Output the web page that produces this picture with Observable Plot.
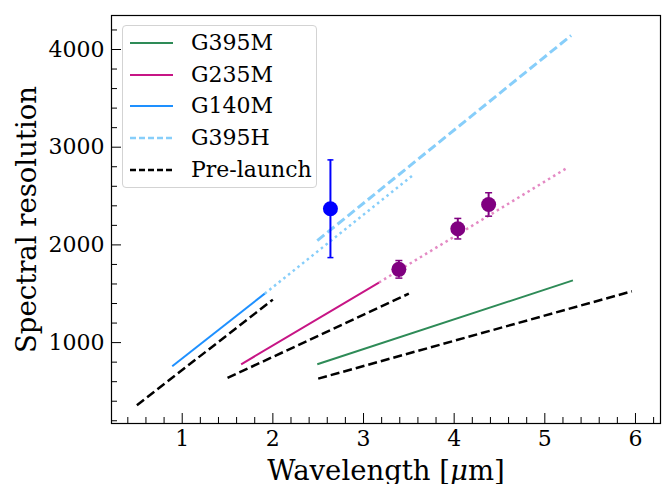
<!DOCTYPE html>
<html><head><meta charset="utf-8">
<script src="https://cdn.jsdelivr.net/npm/d3@7"></script>
<script src="https://cdn.jsdelivr.net/npm/@observablehq/plot@0.6"></script>
<style>
body{margin:0;background:#fff;}
#chart{position:relative;width:663px;height:484px;font-family:"DejaVu Serif",serif;}
#legend{position:absolute;left:122px;top:25px;width:195px;height:163px;border:1px solid #d3d3d3;border-radius:4px;background:rgba(255,255,255,0.85);box-sizing:border-box;}
.row{position:absolute;left:0;height:32px;display:flex;align-items:center;}
.row svg{position:absolute;left:0;top:0;}
.row span{position:absolute;left:68px;top:0;line-height:32px;font-size:22px;white-space:nowrap;color:#000;}
</style>
</head><body>
<div id="chart"></div>
<script>
// ---- data ----
const xMajorTicks = [1, 2, 3, 4, 5, 6];
const yMajorTicks = [1000, 2000, 3000, 4000];

const g395mWave = [2.49, 5.31];
const g395mRes  = [778, 1637];
const g235mWave = [1.65, 3.17];
const g235mRes  = [778, 1615];
const g235mExtWave = [3.17, 5.26];
const g235mExtRes  = [1615, 2796];
const g140mWave = [0.89, 1.91];
const g140mRes  = [758, 1501];
const g140mExtWave = [1.91, 3.55];
const g140mExtRes  = [1501, 2718];
const g395hWave = [2.49, 5.29];
const g395hRes  = [2044, 4143];
const pre140Wave = [0.5, 2.0];
const pre140Res  = [359, 1440];
const pre235Wave = [1.5, 3.5];
const pre235Res  = [638, 1501];
const pre395Wave = [2.5, 5.96];
const pre395Res  = [631, 1525];

const blueWave = [2.635];
const blueRes  = [2370];
const blueErr  = [500];
const purpleWave = [3.39, 4.04, 4.38];
const purpleRes  = [1750, 2166, 2414];
const purpleErr  = [90, 105, 120];

const legendLabels = ["G395M", "G235M", "G140M", "G395H", "Pre-launch"];
const legendColors = ["#2e8b57", "#c71585", "#1e90ff", "#87cefa", "#000000"];
const legendDash   = [null, null, null, "6,3", "6,3"];

// ---- helpers ----
const pts = (xs, ys) => xs.map((x, i) => ({x, y: ys[i]}));
const errPts = (xs, ys, es) => xs.map((x, i) => ({x, y: ys[i], e: es[i]}));
const xMinorTicks = d3.range(0.4, 6.21, 0.2).map(v => +v.toFixed(1)).filter(v => !xMajorTicks.includes(v));
const yMinorTicks = d3.range(200, 4201, 200).filter(v => !yMajorTicks.includes(v));

const W = 663, H = 484, mL = 111, mR = 3, mT = 15, mB = 61;
const pw = W - mL - mR, ph = H - mT - mB;

const capSymbol = {draw(ctx, size) { const r = Math.sqrt(size / Math.PI); ctx.moveTo(-r, 0); ctx.lineTo(r, 0); }};

const blue = errPts(blueWave, blueRes, blueErr);
const purple = errPts(purpleWave, purpleRes, purpleErr);
const caps = d => d.flatMap(p => [{x: p.x, y: p.y - p.e}, {x: p.x, y: p.y + p.e}]);

const line = (xs, ys, o) => Plot.line(pts(xs, ys), {x: "x", y: "y", strokeLinecap: "butt", ...o});

const plot = Plot.plot({
  width: W, height: H,
  marginLeft: mL, marginRight: mR, marginTop: mT, marginBottom: mB,
  style: {fontFamily: "DejaVu Serif", fontSize: "22px", background: "transparent"},
  x: {domain: [0.22, 6.276]},
  y: {domain: [172, 4348]},
  marks: [
    // lines
    line(pre140Wave, pre140Res, {stroke: "#000", strokeWidth: 2.5, strokeDasharray: "9,4"}),
    line(pre235Wave, pre235Res, {stroke: "#000", strokeWidth: 2.5, strokeDasharray: "9,4"}),
    line(pre395Wave, pre395Res, {stroke: "#000", strokeWidth: 2.5, strokeDasharray: "9,4"}),
    line(g140mExtWave, g140mExtRes, {stroke: "#87cefa", strokeWidth: 2.5, strokeDasharray: "2.5,3.5"}),
    line(g235mExtWave, g235mExtRes, {stroke: "#e48ac4", strokeWidth: 2.5, strokeDasharray: "2.5,3.5"}),
    line(g395hWave, g395hRes, {stroke: "#87cefa", strokeWidth: 3, strokeDasharray: "9,4"}),
    line(g395mWave, g395mRes, {stroke: "#2e8b57", strokeWidth: 2}),
    line(g235mWave, g235mRes, {stroke: "#c71585", strokeWidth: 2}),
    line(g140mWave, g140mRes, {stroke: "#1e90ff", strokeWidth: 2}),
    // error bars
    Plot.ruleX(blue, {x: "x", y1: d => d.y - d.e, y2: d => d.y + d.e, stroke: "#0000ff", strokeWidth: 2}),
    Plot.dot(caps(blue), {x: "x", y: "y", symbol: capSymbol, r: 3, stroke: "#0000ff", strokeWidth: 1.5}),
    Plot.ruleX(purple, {x: "x", y1: d => d.y - d.e, y2: d => d.y + d.e, stroke: "#800080", strokeWidth: 2}),
    Plot.dot(caps(purple), {x: "x", y: "y", symbol: capSymbol, r: 3.5, stroke: "#800080", strokeWidth: 1.5}),
    Plot.dot(blue, {x: "x", y: "y", r: 7.5, fill: "#0000ff"}),
    Plot.dot(purple, {x: "x", y: "y", r: 7.5, fill: "#800080"}),
    // inward ticks
    Plot.tickX(xMajorTicks, {x: d => d, insetTop: ph - 10, stroke: "#000", strokeWidth: 1}),
    Plot.tickX(xMinorTicks, {x: d => d, insetTop: ph - 6, stroke: "#000", strokeWidth: 1}),
    Plot.tickY(yMajorTicks, {y: d => d, insetRight: pw - 10, stroke: "#000", strokeWidth: 1}),
    Plot.tickY(yMinorTicks, {y: d => d, insetRight: pw - 6, stroke: "#000", strokeWidth: 1}),
    Plot.frame({stroke: "#000", strokeWidth: 1.2}),
    // tick labels
    Plot.axisX(xMajorTicks, {tickSize: 0, tickPadding: 7, fontSize: 22, label: null, tickFormat: d => String(d)}),
    Plot.axisY(yMajorTicks, {tickSize: 0, tickPadding: 7, fontSize: 22, label: null, tickFormat: d => String(d)}),
    // axis titles
    Plot.text(["Wavelength [μm]"], {text: d => d, frameAnchor: "bottom", lineAnchor: "bottom", textAnchor: "middle", dy: 56, fontSize: 27.5}),
    Plot.text(["Spectral resolution"], {text: d => d, frameAnchor: "left", lineAnchor: "bottom", textAnchor: "middle", rotate: -90, dx: -76, fontSize: 27.5})
  ]
});

// italic mu as in the reference mathtext
plot.querySelectorAll("text").forEach(t => {
  if (t.textContent === "Wavelength [μm]") {
    t.textContent = "";
    const parts = [["Wavelength [", null], ["μ", "italic"], ["m]", null]];
    for (const [s, st] of parts) {
      const ts = document.createElementNS("http://www.w3.org/2000/svg", "tspan");
      ts.textContent = s;
      if (st) ts.setAttribute("font-style", st);
      t.appendChild(ts);
    }
  }
});

const chart = document.getElementById("chart");
chart.appendChild(plot);

// legend overlay
const legend = document.createElement("div");
legend.id = "legend";
const rowCenters = [17, 48.5, 80, 111.5, 143.5];
legendLabels.forEach((lab, i) => {
  const row = document.createElement("div");
  row.className = "row";
  row.style.top = (rowCenters[i] - 16) + "px";
  row.style.width = "190px";
  const dash = legendDash[i] ? ` stroke-dasharray="${legendDash[i]}"` : "";
  const sw = i === 4 ? 2.5 : (i === 3 ? 2.5 : 2);
  row.innerHTML = `<svg width="60" height="32"><line x1="7" x2="50" y1="16" y2="16" stroke="${legendColors[i]}" stroke-width="${sw}"${dash}/></svg><span>${lab}</span>`;
  legend.appendChild(row);
});
chart.appendChild(legend);
</script>
</body></html>
